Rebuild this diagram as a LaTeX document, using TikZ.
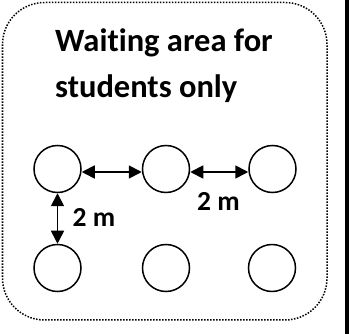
\documentclass[tikz,border=0pt]{standalone}
\usepackage{fontspec}
\setmainfont[Ligatures=NoCommon]{Carlito}
\usetikzlibrary{arrows.meta}
\tikzset{
  seat/.style={circle, draw=black, line width=1.5pt, minimum size=47pt, inner sep=0pt},
  gap/.style={line width=1.7pt, {Triangle[length=13pt,width=13pt]}-{Triangle[length=13pt,width=13pt]}},
  lbl/.style={font=\bfseries\fontsize{27.5}{30}\selectfont, inner sep=0pt},
  title/.style={font=\bfseries\fontsize{32.5}{44}\selectfont, inner sep=0pt, anchor=base west},
  border/.style={line width=1.5pt, dash pattern=on 1.5pt off 1.5pt, rounded corners=42pt}
}
\begin{document}
\begin{tikzpicture}[x=1pt,y=-1pt]
\useasboundingbox (0,0) rectangle (349,334);
\fill[black] (345,0) rectangle (349,334);
\draw[border] (2.5,2.5) rectangle (327,320);
\node[title] (t1) at (55,52) {Waiting area for};
\node[title] (t2) at (55,98) {students only};
\node[seat] (a1) at (57.5,169) {};
\node[seat] (a2) at (166,169) {};
\node[seat] (a3) at (272.5,169) {};
\node[seat] (b1) at (57.5,268) {};
\node[seat] (b2) at (166,268) {};
\node[seat] (b3) at (272,268) {};
\draw[gap] ([yshift=-3pt]a1.east) -- ([yshift=-3pt]a2.west);
\draw[gap] ([yshift=-3pt]a2.east) -- ([yshift=-3pt]a3.west);
\draw[gap] (a1.south) -- (b1.north);
\node[lbl] (l1) at (94,217.5) {2 m};
\node[lbl] (l2) at (218.5,201) {2 m};
\end{tikzpicture}
\end{document}
